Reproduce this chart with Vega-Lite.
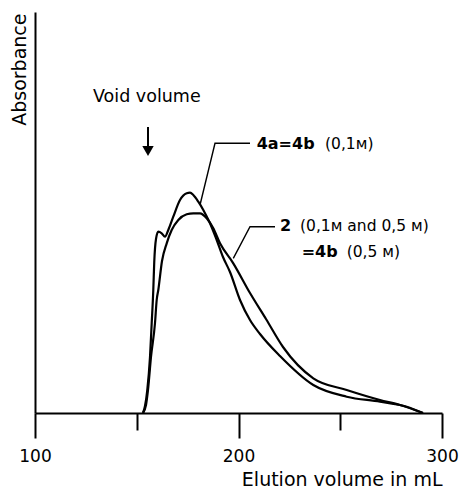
{
  "$schema": "https://vega.github.io/schema/vega-lite/v6.json",
  "width": 407,
  "height": 401,
  "autosize": {"type": "none"},
  "padding": {"left": 35, "top": 12, "right": 19, "bottom": 75},
  "background": "white",
  "config": {"view": {"stroke": null}, "font": "DejaVu Sans"},
  "datasets": {
    "curves": [
      {"sample": "4a=4b (0,1M)", "volume": 153.07, "absorbance": 0},
      {"sample": "4a=4b (0,1M)", "volume": 154.05, "absorbance": 7},
      {"sample": "4a=4b (0,1M)", "volume": 155.18, "absorbance": 23},
      {"sample": "4a=4b (0,1M)", "volume": 156.51, "absorbance": 56},
      {"sample": "4a=4b (0,1M)", "volume": 157.35, "absorbance": 90},
      {"sample": "4a=4b (0,1M)", "volume": 158.13, "absorbance": 123},
      {"sample": "4a=4b (0,1M)", "volume": 158.6, "absorbance": 151},
      {"sample": "4a=4b (0,1M)", "volume": 159.46, "absorbance": 174},
      {"sample": "4a=4b (0,1M)", "volume": 160.59, "absorbance": 181.3},
      {"sample": "4a=4b (0,1M)", "volume": 162.26, "absorbance": 179.7},
      {"sample": "4a=4b (0,1M)", "volume": 163.88, "absorbance": 176.3},
      {"sample": "4a=4b (0,1M)", "volume": 165.5, "absorbance": 183},
      {"sample": "4a=4b (0,1M)", "volume": 167.96, "absorbance": 196.3},
      {"sample": "4a=4b (0,1M)", "volume": 171.25, "absorbance": 213},
      {"sample": "4a=4b (0,1M)", "volume": 174.55, "absorbance": 219.7},
      {"sample": "4a=4b (0,1M)", "volume": 176.17, "absorbance": 220.3},
      {"sample": "4a=4b (0,1M)", "volume": 177.79, "absorbance": 218},
      {"sample": "4a=4b (0,1M)", "volume": 180.25, "absorbance": 211.3},
      {"sample": "4a=4b (0,1M)", "volume": 182.7, "absorbance": 203},
      {"sample": "4a=4b (0,1M)", "volume": 185.99, "absorbance": 189.7},
      {"sample": "4a=4b (0,1M)", "volume": 189.29, "absorbance": 173},
      {"sample": "4a=4b (0,1M)", "volume": 192.38, "absorbance": 156},
      {"sample": "4a=4b (0,1M)", "volume": 195.82, "absorbance": 141},
      {"sample": "4a=4b (0,1M)", "volume": 200.74, "absorbance": 113},
      {"sample": "4a=4b (0,1M)", "volume": 205.65, "absorbance": 93},
      {"sample": "4a=4b (0,1M)", "volume": 210.57, "absorbance": 79},
      {"sample": "4a=4b (0,1M)", "volume": 220.39, "absorbance": 57},
      {"sample": "4a=4b (0,1M)", "volume": 236.76, "absorbance": 28},
      {"sample": "4a=4b (0,1M)", "volume": 253.17, "absorbance": 16.3},
      {"sample": "4a=4b (0,1M)", "volume": 269.53, "absorbance": 11.3},
      {"sample": "4a=4b (0,1M)", "volume": 282.65, "absorbance": 6.3},
      {"sample": "4a=4b (0,1M)", "volume": 290.66, "absorbance": 0},
      {"sample": "2 = 4b (0,5M)", "volume": 153.07, "absorbance": 0},
      {"sample": "2 = 4b (0,5M)", "volume": 154.55, "absorbance": 8},
      {"sample": "2 = 4b (0,5M)", "volume": 155.53, "absorbance": 23},
      {"sample": "2 = 4b (0,5M)", "volume": 157.0, "absorbance": 56},
      {"sample": "2 = 4b (0,5M)", "volume": 158.97, "absorbance": 90},
      {"sample": "2 = 4b (0,5M)", "volume": 159.8, "absorbance": 113},
      {"sample": "2 = 4b (0,5M)", "volume": 160.59, "absorbance": 123},
      {"sample": "2 = 4b (0,5M)", "volume": 162.41, "absorbance": 152},
      {"sample": "2 = 4b (0,5M)", "volume": 164.72, "absorbance": 169.7},
      {"sample": "2 = 4b (0,5M)", "volume": 167.17, "absorbance": 183},
      {"sample": "2 = 4b (0,5M)", "volume": 170.42, "absorbance": 193},
      {"sample": "2 = 4b (0,5M)", "volume": 174.55, "absorbance": 198.7},
      {"sample": "2 = 4b (0,5M)", "volume": 177.79, "absorbance": 199.7},
      {"sample": "2 = 4b (0,5M)", "volume": 181.08, "absorbance": 199.7},
      {"sample": "2 = 4b (0,5M)", "volume": 184.37, "absorbance": 194.7},
      {"sample": "2 = 4b (0,5M)", "volume": 187.62, "absorbance": 184.7},
      {"sample": "2 = 4b (0,5M)", "volume": 190.91, "absorbance": 169.7},
      {"sample": "2 = 4b (0,5M)", "volume": 197.44, "absorbance": 149.7},
      {"sample": "2 = 4b (0,5M)", "volume": 205.65, "absorbance": 120},
      {"sample": "2 = 4b (0,5M)", "volume": 213.51, "absorbance": 94},
      {"sample": "2 = 4b (0,5M)", "volume": 221.87, "absorbance": 66},
      {"sample": "2 = 4b (0,5M)", "volume": 236.76, "absorbance": 34.7},
      {"sample": "2 = 4b (0,5M)", "volume": 253.17, "absorbance": 23},
      {"sample": "2 = 4b (0,5M)", "volume": 269.53, "absorbance": 13},
      {"sample": "2 = 4b (0,5M)", "volume": 279.36, "absorbance": 8},
      {"sample": "2 = 4b (0,5M)", "volume": 290.66, "absorbance": 0}
    ],
    "leaders": [
      {"line": "a", "step": 1, "volume": 181.08, "absorbance": 208},
      {"line": "a", "step": 2, "volume": 188.45, "absorbance": 269.7},
      {"line": "a", "step": 3, "volume": 205.65, "absorbance": 269.7},
      {"line": "b", "step": 1, "volume": 197.44, "absorbance": 154.7},
      {"line": "b", "step": 2, "volume": 205.65, "absorbance": 186.3},
      {"line": "b", "step": 3, "volume": 217.94, "absorbance": 186.3}
    ],
    "compoundLabels": [
      {"text": "4a=4b", "volume": 208.94, "absorbance": 264},
      {"text": "2", "volume": 220.39, "absorbance": 182},
      {"text": "=4b", "volume": 231.06, "absorbance": 156.5}
    ],
    "conditionLabels": [
      {"text": "(0,1ᴍ)", "volume": 242.51, "absorbance": 264},
      {"text": "(0,1ᴍ  and  0,5 ᴍ)", "volume": 230.22, "absorbance": 182},
      {"text": "(0,5 ᴍ)", "volume": 253.17, "absorbance": 156.5}
    ],
    "voidLabel": [
      {"text": "Void volume", "volume": 128.5, "absorbance": 311.3}
    ],
    "voidArrow": [
      {"volume": 155.53, "top": 286, "bottom": 264, "head": 262}
    ]
  },
  "layer": [
    {
      "data": {"name": "curves"},
      "mark": {"type": "line", "stroke": "black", "strokeWidth": 2.2, "interpolate": "monotone"},
      "encoding": {
        "x": {
          "field": "volume", "type": "quantitative",
          "scale": {"domain": [100, 300], "nice": false, "zero": false},
          "axis": {
            "values": [100, 150, 200, 250, 300],
            "labelExpr": "datum.value % 100 === 0 ? datum.label : ''",
            "labelOverlap": false,
            "labelFlush": false,
            "title": "Elution volume in mL",
            "grid": false,
            "domainColor": "black", "domainWidth": 2,
            "tickColor": "black", "tickWidth": 2,
            "tickSize": {"condition": {"test": "datum.value % 100 === 0", "value": 25}, "value": 17},
            "labelFont": "DejaVu Sans", "labelFontSize": 17, "labelColor": "black",
            "labelPadding": 10, "labelBaseline": "top",
            "titleFont": "DejaVu Sans", "titleFontSize": 19, "titleFontWeight": "normal", "titleColor": "black",
            "titleAnchor": "end", "titleAlign": "right", "titleX": 407, "titleY": 72, "titleBaseline": "alphabetic"
          }
        },
        "y": {
          "field": "absorbance", "type": "quantitative",
          "scale": {"domain": [0, 401], "nice": false},
          "axis": {
            "title": "Absorbance",
            "grid": false, "ticks": false, "labels": false,
            "domainColor": "black", "domainWidth": 2,
            "titleFont": "DejaVu Sans", "titleFontSize": 19, "titleFontWeight": "normal", "titleColor": "black",
            "titleAngle": 270, "titleAlign": "right", "titleBaseline": "alphabetic",
            "titleX": -10, "titleY": 1, "titleAnchor": "end"
          }
        },
        "detail": {"field": "sample"}
      }
    },
    {
      "data": {"name": "leaders"},
      "mark": {"type": "line", "stroke": "black", "strokeWidth": 1.4},
      "encoding": {
        "x": {"field": "volume", "type": "quantitative"},
        "y": {"field": "absorbance", "type": "quantitative"},
        "detail": {"field": "line"},
        "order": {"field": "step"}
      }
    },
    {
      "data": {"name": "compoundLabels"},
      "mark": {"type": "text", "align": "left", "baseline": "alphabetic", "font": "DejaVu Sans", "fontSize": 16, "fontWeight": "bold", "color": "black"},
      "encoding": {
        "x": {"field": "volume", "type": "quantitative"},
        "y": {"field": "absorbance", "type": "quantitative"},
        "text": {"field": "text"}
      }
    },
    {
      "data": {"name": "conditionLabels"},
      "mark": {"type": "text", "align": "left", "baseline": "alphabetic", "font": "DejaVu Sans", "fontSize": 15.5, "color": "black"},
      "encoding": {
        "x": {"field": "volume", "type": "quantitative"},
        "y": {"field": "absorbance", "type": "quantitative"},
        "text": {"field": "text"}
      }
    },
    {
      "data": {"name": "voidLabel"},
      "mark": {"type": "text", "align": "left", "baseline": "alphabetic", "font": "DejaVu Sans", "fontSize": 17.5, "color": "black"},
      "encoding": {
        "x": {"field": "volume", "type": "quantitative"},
        "y": {"field": "absorbance", "type": "quantitative"},
        "text": {"field": "text"}
      }
    },
    {
      "data": {"name": "voidArrow"},
      "mark": {"type": "rule", "stroke": "black", "strokeWidth": 2},
      "encoding": {
        "x": {"field": "volume", "type": "quantitative"},
        "y": {"field": "top", "type": "quantitative"},
        "y2": {"field": "bottom"}
      }
    },
    {
      "data": {"name": "voidArrow"},
      "mark": {"type": "point", "shape": "triangle-down", "filled": true, "color": "black", "size": 130, "opacity": 1},
      "encoding": {
        "x": {"field": "volume", "type": "quantitative"},
        "y": {"field": "head", "type": "quantitative"}
      }
    }
  ]
}
